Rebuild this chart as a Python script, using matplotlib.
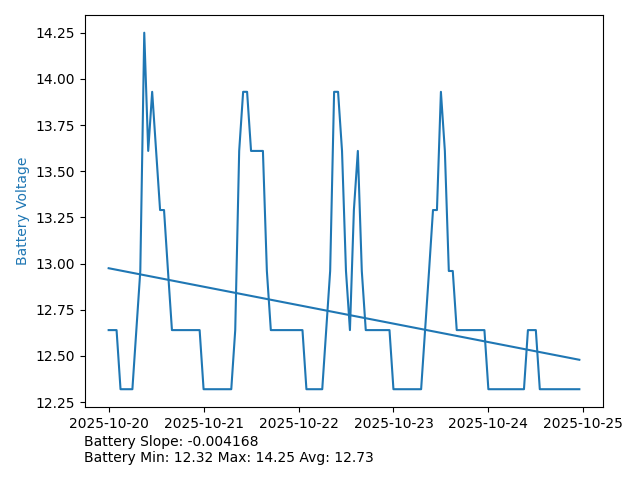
import matplotlib
matplotlib.use("Agg")
import matplotlib.pyplot as plt
import numpy as np
import pandas as pd

# hourly battery readings starting 2025-10-20 00:00
start = "2025-10-20 00:00"
voltage = [
    12.64, 12.64, 12.64, 12.32, 12.32, 12.32, 12.32, 12.64, 12.96, 14.25,
    13.61, 13.93, 13.61, 13.29, 13.29, 12.96, 12.64, 12.64, 12.64, 12.64,
    12.64, 12.64, 12.64, 12.64, 12.32, 12.32, 12.32, 12.32, 12.32, 12.32,
    12.32, 12.32, 12.64, 13.61, 13.93, 13.93, 13.61, 13.61, 13.61, 13.61,
    12.96, 12.64, 12.64, 12.64, 12.64, 12.64, 12.64, 12.64, 12.64, 12.64,
    12.32, 12.32, 12.32, 12.32, 12.32, 12.64, 12.96, 13.93, 13.93, 13.61,
    12.96, 12.64, 13.29, 13.61, 12.96, 12.64, 12.64, 12.64, 12.64, 12.64,
    12.64, 12.64, 12.32, 12.32, 12.32, 12.32, 12.32, 12.32, 12.32, 12.32,
    12.64, 12.96, 13.29, 13.29, 13.93, 13.61, 12.96, 12.96, 12.64, 12.64,
    12.64, 12.64, 12.64, 12.64, 12.64, 12.64, 12.32, 12.32, 12.32, 12.32,
    12.32, 12.32, 12.32, 12.32, 12.32, 12.32, 12.64, 12.64, 12.64, 12.32,
    12.32, 12.32, 12.32, 12.32, 12.32, 12.32, 12.32, 12.32, 12.32, 12.32,
]
slope_text = "Battery Slope: -0.004168"
stats_text = "Battery Min: 12.32 Max: 14.25 Avg: 12.73"

times = pd.date_range(start, periods=len(voltage), freq="h")
hours = np.arange(len(voltage))
m, b = np.polyfit(hours, voltage, 1)

fig, ax = plt.subplots(figsize=(6.4, 4.8), dpi=100)
ax.plot(times, voltage, color="tab:blue")
ax.plot(times, m * hours + b, color="tab:blue")
ax.set_ylabel("Battery Voltage", color="tab:blue")
fig.subplots_adjust(left=0.133, right=0.942, top=0.969, bottom=0.152)
fig.text(0.131, 0.031, slope_text + "\n" + stats_text, ha="left", va="bottom")
fig.savefig("out.png", dpi=100)
